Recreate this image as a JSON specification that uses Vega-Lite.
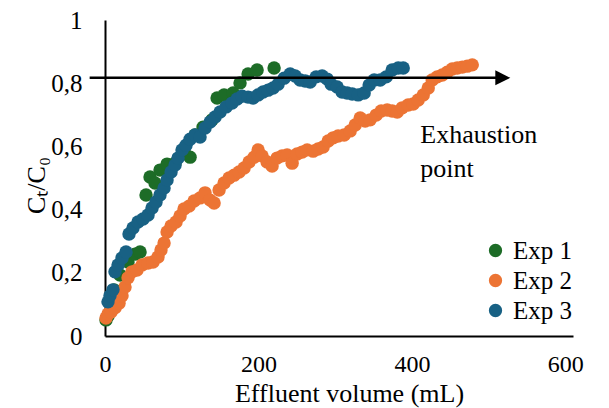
{
  "$schema": "https://vega.github.io/schema/vega-lite/v6.json",
  "width": 468,
  "height": 316,
  "autosize": {"type": "none"},
  "padding": {"left": 105, "top": 20, "right": 36, "bottom": 72},
  "background": "white",
  "config": {
    "view": {"stroke": null},
    "font": "Liberation Serif, Times New Roman, serif",
    "axis": {"labelFont": "Liberation Serif, Times New Roman, serif", "titleFont": "Liberation Serif, Times New Roman, serif"},
    "legend": {"labelFont": "Liberation Serif, Times New Roman, serif"},
    "text": {"font": "Liberation Serif, Times New Roman, serif"}
  },
  "layer": [
    {
      "data": {
        "values": [
          {"series": "Exp 1", "volume": 1.3, "ratio": 0.051},
          {"series": "Exp 1", "volume": 3.9, "ratio": 0.063},
          {"series": "Exp 1", "volume": 9.1, "ratio": 0.114},
          {"series": "Exp 1", "volume": 11.7, "ratio": 0.146},
          {"series": "Exp 1", "volume": 19.6, "ratio": 0.193},
          {"series": "Exp 1", "volume": 30, "ratio": 0.234},
          {"series": "Exp 1", "volume": 39.1, "ratio": 0.259},
          {"series": "Exp 1", "volume": 45.7, "ratio": 0.266},
          {"series": "Exp 1", "volume": 53.5, "ratio": 0.446},
          {"series": "Exp 1", "volume": 58.7, "ratio": 0.503},
          {"series": "Exp 1", "volume": 65.2, "ratio": 0.484},
          {"series": "Exp 1", "volume": 71.7, "ratio": 0.525},
          {"series": "Exp 1", "volume": 80.9, "ratio": 0.544},
          {"series": "Exp 1", "volume": 91.3, "ratio": 0.547},
          {"series": "Exp 1", "volume": 103, "ratio": 0.589},
          {"series": "Exp 1", "volume": 110.9, "ratio": 0.566},
          {"series": "Exp 1", "volume": 117.4, "ratio": 0.636},
          {"series": "Exp 1", "volume": 127.8, "ratio": 0.661},
          {"series": "Exp 1", "volume": 139.6, "ratio": 0.684},
          {"series": "Exp 1", "volume": 146.1, "ratio": 0.753},
          {"series": "Exp 1", "volume": 155.2, "ratio": 0.763},
          {"series": "Exp 1", "volume": 167, "ratio": 0.769},
          {"series": "Exp 1", "volume": 176, "ratio": 0.801},
          {"series": "Exp 1", "volume": 186.5, "ratio": 0.829},
          {"series": "Exp 1", "volume": 198.3, "ratio": 0.842},
          {"series": "Exp 1", "volume": 220.4, "ratio": 0.848},
          {"series": "Exp 2", "volume": 1.3, "ratio": 0.057},
          {"series": "Exp 2", "volume": 3.9, "ratio": 0.07},
          {"series": "Exp 2", "volume": 7.8, "ratio": 0.076},
          {"series": "Exp 2", "volume": 13, "ratio": 0.089},
          {"series": "Exp 2", "volume": 18.3, "ratio": 0.104},
          {"series": "Exp 2", "volume": 22.2, "ratio": 0.127},
          {"series": "Exp 2", "volume": 26.1, "ratio": 0.155},
          {"series": "Exp 2", "volume": 30, "ratio": 0.184},
          {"series": "Exp 2", "volume": 35.2, "ratio": 0.203},
          {"series": "Exp 2", "volume": 41.7, "ratio": 0.209},
          {"series": "Exp 2", "volume": 48.3, "ratio": 0.225},
          {"series": "Exp 2", "volume": 56.1, "ratio": 0.231},
          {"series": "Exp 2", "volume": 62.6, "ratio": 0.234},
          {"series": "Exp 2", "volume": 69.1, "ratio": 0.25},
          {"series": "Exp 2", "volume": 73, "ratio": 0.272},
          {"series": "Exp 2", "volume": 77, "ratio": 0.294},
          {"series": "Exp 2", "volume": 80.9, "ratio": 0.329},
          {"series": "Exp 2", "volume": 86.1, "ratio": 0.348},
          {"series": "Exp 2", "volume": 92.6, "ratio": 0.361},
          {"series": "Exp 2", "volume": 97.8, "ratio": 0.38},
          {"series": "Exp 2", "volume": 103, "ratio": 0.402},
          {"series": "Exp 2", "volume": 109.6, "ratio": 0.411},
          {"series": "Exp 2", "volume": 116.1, "ratio": 0.427},
          {"series": "Exp 2", "volume": 123.9, "ratio": 0.437},
          {"series": "Exp 2", "volume": 130.4, "ratio": 0.453},
          {"series": "Exp 2", "volume": 137, "ratio": 0.43},
          {"series": "Exp 2", "volume": 142.2, "ratio": 0.421},
          {"series": "Exp 2", "volume": 148.7, "ratio": 0.462},
          {"series": "Exp 2", "volume": 155.2, "ratio": 0.484},
          {"series": "Exp 2", "volume": 161.7, "ratio": 0.5},
          {"series": "Exp 2", "volume": 168.3, "ratio": 0.509},
          {"series": "Exp 2", "volume": 174.8, "ratio": 0.519},
          {"series": "Exp 2", "volume": 181.3, "ratio": 0.532},
          {"series": "Exp 2", "volume": 187.8, "ratio": 0.551},
          {"series": "Exp 2", "volume": 194.3, "ratio": 0.566},
          {"series": "Exp 2", "volume": 199.6, "ratio": 0.589},
          {"series": "Exp 2", "volume": 204.8, "ratio": 0.57},
          {"series": "Exp 2", "volume": 211.3, "ratio": 0.551},
          {"series": "Exp 2", "volume": 217.8, "ratio": 0.538},
          {"series": "Exp 2", "volume": 224.3, "ratio": 0.563},
          {"series": "Exp 2", "volume": 230.9, "ratio": 0.57},
          {"series": "Exp 2", "volume": 237.4, "ratio": 0.573},
          {"series": "Exp 2", "volume": 243.9, "ratio": 0.547},
          {"series": "Exp 2", "volume": 250.4, "ratio": 0.576},
          {"series": "Exp 2", "volume": 257, "ratio": 0.582},
          {"series": "Exp 2", "volume": 263.5, "ratio": 0.589},
          {"series": "Exp 2", "volume": 271.3, "ratio": 0.585},
          {"series": "Exp 2", "volume": 277.8, "ratio": 0.592},
          {"series": "Exp 2", "volume": 284.3, "ratio": 0.598},
          {"series": "Exp 2", "volume": 290.9, "ratio": 0.617},
          {"series": "Exp 2", "volume": 297.4, "ratio": 0.627},
          {"series": "Exp 2", "volume": 303.9, "ratio": 0.633},
          {"series": "Exp 2", "volume": 311.7, "ratio": 0.636},
          {"series": "Exp 2", "volume": 319.6, "ratio": 0.649},
          {"series": "Exp 2", "volume": 326.1, "ratio": 0.668},
          {"series": "Exp 2", "volume": 332.6, "ratio": 0.69},
          {"series": "Exp 2", "volume": 339.1, "ratio": 0.68},
          {"series": "Exp 2", "volume": 345.6, "ratio": 0.684},
          {"series": "Exp 2", "volume": 353.5, "ratio": 0.699},
          {"series": "Exp 2", "volume": 360, "ratio": 0.712},
          {"series": "Exp 2", "volume": 367.8, "ratio": 0.715},
          {"series": "Exp 2", "volume": 374.3, "ratio": 0.712},
          {"series": "Exp 2", "volume": 380.9, "ratio": 0.709},
          {"series": "Exp 2", "volume": 387.4, "ratio": 0.722},
          {"series": "Exp 2", "volume": 395.2, "ratio": 0.731},
          {"series": "Exp 2", "volume": 401.7, "ratio": 0.734},
          {"series": "Exp 2", "volume": 408.2, "ratio": 0.747},
          {"series": "Exp 2", "volume": 414.8, "ratio": 0.763},
          {"series": "Exp 2", "volume": 421.3, "ratio": 0.785},
          {"series": "Exp 2", "volume": 426.5, "ratio": 0.81},
          {"series": "Exp 2", "volume": 433, "ratio": 0.82},
          {"series": "Exp 2", "volume": 439.6, "ratio": 0.826},
          {"series": "Exp 2", "volume": 446.1, "ratio": 0.835},
          {"series": "Exp 2", "volume": 452.6, "ratio": 0.845},
          {"series": "Exp 2", "volume": 459.1, "ratio": 0.848},
          {"series": "Exp 2", "volume": 465.7, "ratio": 0.851},
          {"series": "Exp 2", "volume": 472.2, "ratio": 0.854},
          {"series": "Exp 2", "volume": 478.7, "ratio": 0.858},
          {"series": "Exp 3", "volume": 3.9, "ratio": 0.108},
          {"series": "Exp 3", "volume": 6.5, "ratio": 0.127},
          {"series": "Exp 3", "volume": 10.4, "ratio": 0.146},
          {"series": "Exp 3", "volume": 13, "ratio": 0.203},
          {"series": "Exp 3", "volume": 17, "ratio": 0.225},
          {"series": "Exp 3", "volume": 22.2, "ratio": 0.247},
          {"series": "Exp 3", "volume": 27.4, "ratio": 0.266},
          {"series": "Exp 3", "volume": 31.3, "ratio": 0.323},
          {"series": "Exp 3", "volume": 36.5, "ratio": 0.342},
          {"series": "Exp 3", "volume": 43, "ratio": 0.361},
          {"series": "Exp 3", "volume": 49.6, "ratio": 0.37},
          {"series": "Exp 3", "volume": 56.1, "ratio": 0.383},
          {"series": "Exp 3", "volume": 61.3, "ratio": 0.405},
          {"series": "Exp 3", "volume": 66.5, "ratio": 0.424},
          {"series": "Exp 3", "volume": 71.7, "ratio": 0.446},
          {"series": "Exp 3", "volume": 77, "ratio": 0.468},
          {"series": "Exp 3", "volume": 80.9, "ratio": 0.494},
          {"series": "Exp 3", "volume": 86.1, "ratio": 0.519},
          {"series": "Exp 3", "volume": 91.3, "ratio": 0.541},
          {"series": "Exp 3", "volume": 95.2, "ratio": 0.563},
          {"series": "Exp 3", "volume": 100.4, "ratio": 0.589},
          {"series": "Exp 3", "volume": 105.6, "ratio": 0.604},
          {"series": "Exp 3", "volume": 110.9, "ratio": 0.623},
          {"series": "Exp 3", "volume": 117.4, "ratio": 0.636},
          {"series": "Exp 3", "volume": 123.9, "ratio": 0.63},
          {"series": "Exp 3", "volume": 130.4, "ratio": 0.658},
          {"series": "Exp 3", "volume": 137, "ratio": 0.677},
          {"series": "Exp 3", "volume": 143.5, "ratio": 0.693},
          {"series": "Exp 3", "volume": 150, "ratio": 0.709},
          {"series": "Exp 3", "volume": 157.8, "ratio": 0.725},
          {"series": "Exp 3", "volume": 165.6, "ratio": 0.737},
          {"series": "Exp 3", "volume": 172.2, "ratio": 0.75},
          {"series": "Exp 3", "volume": 178.7, "ratio": 0.759},
          {"series": "Exp 3", "volume": 186.5, "ratio": 0.756},
          {"series": "Exp 3", "volume": 193, "ratio": 0.753},
          {"series": "Exp 3", "volume": 199.6, "ratio": 0.763},
          {"series": "Exp 3", "volume": 206.1, "ratio": 0.772},
          {"series": "Exp 3", "volume": 212.6, "ratio": 0.778},
          {"series": "Exp 3", "volume": 219.1, "ratio": 0.785},
          {"series": "Exp 3", "volume": 225.6, "ratio": 0.797},
          {"series": "Exp 3", "volume": 233.5, "ratio": 0.816},
          {"series": "Exp 3", "volume": 241.3, "ratio": 0.829},
          {"series": "Exp 3", "volume": 247.8, "ratio": 0.823},
          {"series": "Exp 3", "volume": 254.3, "ratio": 0.81},
          {"series": "Exp 3", "volume": 260.9, "ratio": 0.807},
          {"series": "Exp 3", "volume": 267.4, "ratio": 0.804},
          {"series": "Exp 3", "volume": 275.2, "ratio": 0.82},
          {"series": "Exp 3", "volume": 283, "ratio": 0.823},
          {"series": "Exp 3", "volume": 289.6, "ratio": 0.813},
          {"series": "Exp 3", "volume": 294.8, "ratio": 0.797},
          {"series": "Exp 3", "volume": 302.6, "ratio": 0.788},
          {"series": "Exp 3", "volume": 309.1, "ratio": 0.772},
          {"series": "Exp 3", "volume": 315.6, "ratio": 0.769},
          {"series": "Exp 3", "volume": 322.2, "ratio": 0.766},
          {"series": "Exp 3", "volume": 330, "ratio": 0.763},
          {"series": "Exp 3", "volume": 337.8, "ratio": 0.769},
          {"series": "Exp 3", "volume": 344.3, "ratio": 0.794},
          {"series": "Exp 3", "volume": 350.9, "ratio": 0.81},
          {"series": "Exp 3", "volume": 358.7, "ratio": 0.81},
          {"series": "Exp 3", "volume": 366.5, "ratio": 0.82},
          {"series": "Exp 3", "volume": 374.3, "ratio": 0.842},
          {"series": "Exp 3", "volume": 382.2, "ratio": 0.848},
          {"series": "Exp 3", "volume": 388.7, "ratio": 0.848}
        ]
      },
      "mark": {"type": "circle", "size": 180, "opacity": 1},
      "encoding": {
        "x": {
          "field": "volume", "type": "quantitative",
          "scale": {"domain": [0, 610], "nice": false, "zero": false},
          "axis": {
            "values": [0, 200, 400, 600],
            "title": "Effluent volume (mL)",
            "grid": false, "ticks": false,
            "domainColor": "black", "domainWidth": 2,
            "labelFontSize": 24, "labelColor": "black", "labelPadding": 16,
            "labelFlush": false, "labelOverlap": false,
            "titleFontSize": 26, "titleFontWeight": "normal", "titleColor": "black",
            "titleX": 244, "titleY": 65, "titleBaseline": "alphabetic"
          }
        },
        "y": {
          "field": "ratio", "type": "quantitative",
          "scale": {"domain": [0, 1], "nice": false},
          "axis": {
            "values": [0, 0.2, 0.4, 0.6, 0.8, 1],
            "labelExpr": "replace(format(datum.value, '~g'), '.', ',')",
            "grid": false, "ticks": false,
            "domainColor": "black", "domainWidth": 2,
            "labelFontSize": 25, "labelColor": "black", "labelPadding": 23,
            "labelFlush": false, "labelOverlap": false,
            "title": "Cₜ/C₀",
            "titleFontSize": 26, "titleFontWeight": "normal", "titleColor": "black",
            "titleX": -61, "titleY": 165, "titleBaseline": "alphabetic", "titleAngle": 270
          }
        },
        "color": {
          "field": "series", "type": "nominal",
          "scale": {"domain": ["Exp 1", "Exp 2", "Exp 3"], "range": ["#1D6C27", "#EC7434", "#186184"]},
          "legend": {
            "orient": "none", "legendX": 378, "legendY": 218,
            "title": null, "padding": 0,
            "labelFontSize": 25, "labelColor": "black",
            "symbolType": "circle", "symbolSize": 177, "symbolStrokeWidth": 0,
            "rowPadding": 4, "labelOffset": 5
          }
        }
      }
    },
    {
      "data": {"values": [{}]},
      "mark": {"type": "rule", "color": "black", "strokeWidth": 2.5},
      "encoding": {
        "x": {"datum": -20, "type": "quantitative"},
        "x2": {"datum": 512},
        "y": {"datum": 0.817, "type": "quantitative"}
      }
    },
    {
      "data": {"values": [{}]},
      "mark": {"type": "point", "shape": "M-1,-1L1,0L-1,1Z", "filled": true, "color": "black", "size": 225, "opacity": 1, "strokeWidth": 0},
      "encoding": {
        "x": {"datum": 518.5, "type": "quantitative"},
        "y": {"datum": 0.817, "type": "quantitative"}
      }
    },
    {
      "data": {"values": [{}]},
      "mark": {"type": "text", "align": "left", "baseline": "alphabetic", "fontSize": 26, "lineHeight": 34, "font": "Liberation Serif, Times New Roman, serif", "color": "black"},
      "encoding": {
        "x": {"datum": 411, "type": "quantitative"},
        "y": {"datum": 0.611, "type": "quantitative"},
        "text": {"value": ["Exhaustion", "point"]}
      }
    }
  ]
}
